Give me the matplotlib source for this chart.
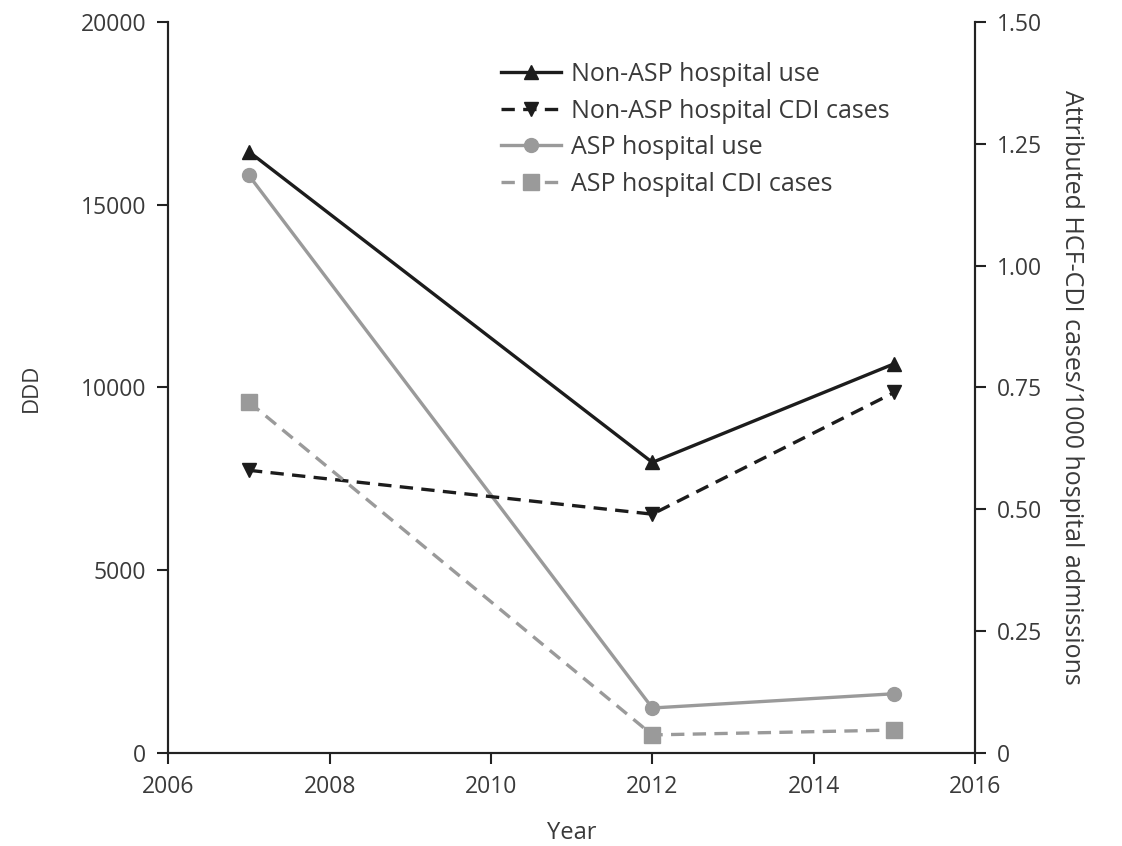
import numpy as np
import matplotlib.pyplot as plt

plt.rcParams['font.family'] = ['Open Sans', 'DejaVu Sans']

years = [2007, 2012, 2015]
non_asp_use = [16450, 7950, 10650]
asp_use = [15800, 1230, 1620]
non_asp_cdi = [0.58, 0.49, 0.74]
asp_cdi = [0.72, 0.037, 0.047]

dark = '#1c1c1c'
grey = '#9a9a9a'
txt = '#3a3a3a'

fig = plt.figure(figsize=(11.22, 8.46), dpi=100)
ax = fig.add_axes([0.150, 0.110, 0.719, 0.864])
ax2 = ax.twinx()

l1, = ax.plot(years, non_asp_use, color=dark, lw=2.4, marker='^', ms=10,
              label='Non-ASP hospital use')
l3, = ax.plot(years, asp_use, color=grey, lw=2.4, marker='o', ms=10,
              label='ASP hospital use')
l2, = ax2.plot(years, non_asp_cdi, color=dark, lw=2.4, ls=(0, (4, 2.5)),
               marker='v', ms=10, label='Non-ASP hospital CDI cases')
l4, = ax2.plot(years, asp_cdi, color=grey, lw=2.4, ls=(0, (4, 2.5)),
               marker='s', ms=12, label='ASP hospital CDI cases')

ax.set_xlim(2006, 2016)
ax.set_ylim(0, 20000)
ax2.set_ylim(0, 1.5)
ax.set_xticks(np.arange(2006, 2017, 2))
ax.set_yticks(np.arange(0, 20001, 5000))
ax2.set_yticks(np.arange(0, 1.51, 0.25))
ax2.set_yticklabels(['0'] + [f'{v:.2f}' for v in np.arange(0.25, 1.51, 0.25)])

for a in (ax, ax2):
    a.spines['top'].set_visible(False)
    for s in a.spines.values():
        s.set_linewidth(1.5)
        s.set_color('#222222')
    a.tick_params(direction='out', length=8, width=1.5, labelsize=16.5,
                  colors='#222222', labelcolor=txt, pad=8)

ax.set_xlabel('Year', fontsize=17, color=txt, labelpad=16)
ax.set_ylabel('DDD', fontsize=16, color=txt, labelpad=28)
ax2.set_ylabel('Attributed HCF-CDI cases/1000 hospital admissions', fontsize=18,
               color=txt, rotation=270, labelpad=30)

ax.legend(handles=[l1, l2, l3, l4], loc='upper left',
          bbox_to_anchor=(0.385, 0.976), frameon=False, fontsize=18,
          handlelength=2.4, handletextpad=0.4, labelspacing=0.46,
          labelcolor=txt)

fig.savefig('out.png', dpi=100)
